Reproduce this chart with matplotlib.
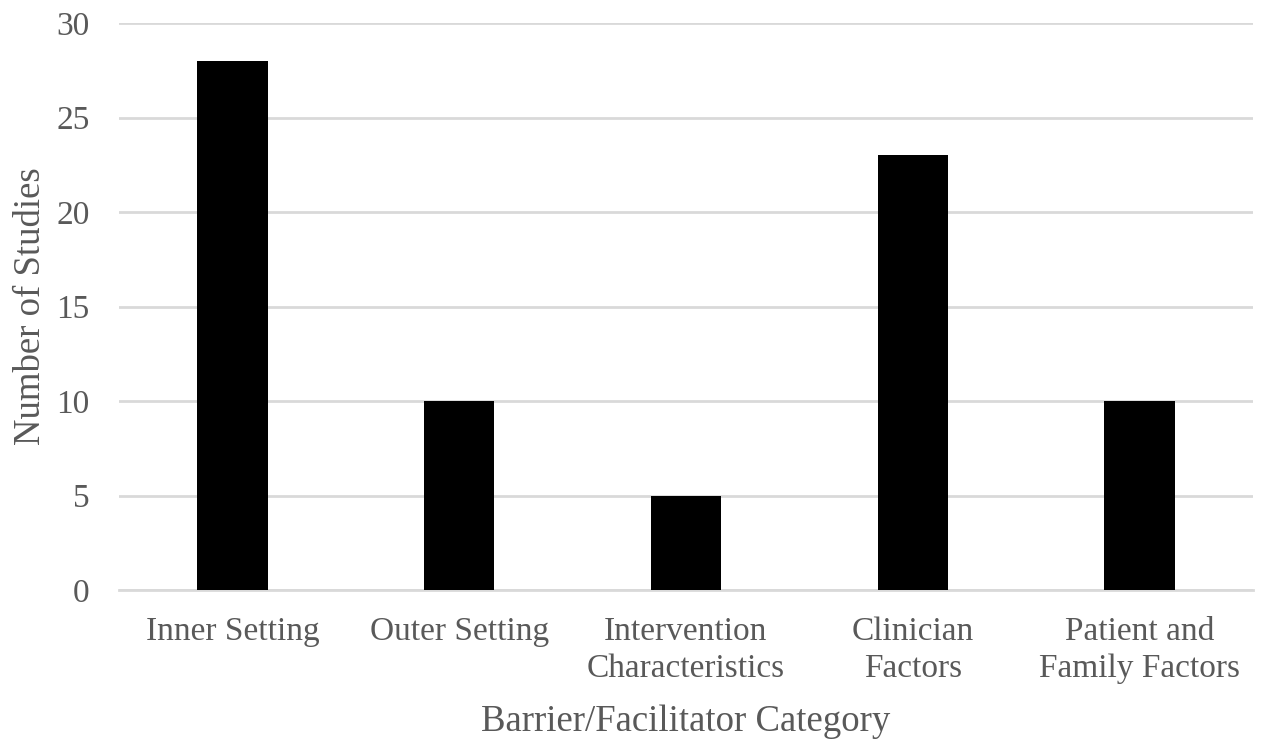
import matplotlib.pyplot as plt

# data
categories = ["Inner Setting", "Outer Setting", "Intervention\nCharacteristics",
              "Clinician\nFactors", "Patient and\nFamily Factors"]
n_studies = [28, 10, 5, 23, 10]

plt.rcParams['font.family'] = ['Liberation Serif', 'DejaVu Serif']
grey = "#595959"

fig = plt.figure(figsize=(12.63, 7.43), dpi=100)
ax = fig.add_axes([0.0942, 0.2059, 0.8978, 0.7631])

x = range(len(categories))
ax.bar(x, n_studies, width=0.31, color="black", zorder=3)

ax.set_xlim(-0.5, len(categories) - 0.5)
ax.set_ylim(0, 30)
ax.set_yticks(range(0, 31, 5))
ax.set_xticks(list(x))
ax.set_xticklabels(categories, linespacing=1.26)
ax.grid(axis="y", color="#d9d9d9", linewidth=2, zorder=0)
for s in ["top", "right", "left"]:
    ax.spines[s].set_visible(False)
ax.spines["bottom"].set_color("#d9d9d9")
ax.spines["bottom"].set_linewidth(2)
ax.tick_params(length=0, labelsize=24, colors=grey)
ax.tick_params(axis="y", pad=21)
ax.tick_params(axis="x", pad=19)

ax.set_ylabel("Number of Studies", fontsize=26.5, color=grey, labelpad=6)
ax.set_xlabel("Barrier/Facilitator Category", fontsize=26.5, color=grey, labelpad=15)

fig.savefig("out.png", dpi=100)
